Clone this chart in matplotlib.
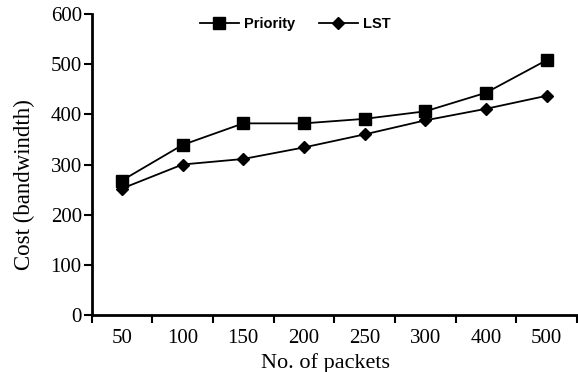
import matplotlib.pyplot as plt
import numpy as np

packets = ["50", "100", "150", "200", "250", "300", "400", "500"]
priority = [268, 339, 382, 382, 391, 406, 443, 508]
lst = [252, 300, 311, 334, 360, 388, 411, 437]

plt.rcParams["font.family"] = "Liberation Serif"

W, H = 578, 372
fig = plt.figure(figsize=(W / 100, H / 100), dpi=100)
# axes box in pixels: left 91.5, right 577, top 14, bottom 315
ax = fig.add_axes([91.5 / W, 1 - 315 / H, (577 - 91.5) / W, (315 - 14) / H])

x = np.arange(len(packets)) + 0.5
ax.plot(x, priority, color="black", lw=1.3, marker="s", markersize=9, label="Priority")
ax.plot(x, lst, color="black", lw=1.3, marker="D", markersize=6, label="LST")

ax.set_xlim(0, len(packets))
ax.set_ylim(0, 600)
ax.set_yticks(range(0, 601, 100))

# labels at category centres, tick marks on the boundaries
ax.set_xticks(x)
ax.set_xticklabels(packets)
ax.set_xticks(np.arange(len(packets) + 1), minor=True)
ax.tick_params(axis="x", which="major", length=0, pad=10, labelsize=15)
ax.tick_params(axis="x", which="minor", length=6, width=1.5, direction="out")
ax.tick_params(axis="y", length=6, width=1.5, direction="out", pad=1, labelsize=15)

for side in ["top", "right"]:
    ax.spines[side].set_visible(False)
for side in ["left", "bottom"]:
    ax.spines[side].set_linewidth(2)

ax.set_xlabel("No. of packets", fontsize=16)
ax.xaxis.set_label_coords(0.481, -38 / 301, transform=ax.transAxes)
ax.set_ylabel("Cost (bandwindth)", fontsize=16.5)
ax.yaxis.set_label_coords(-56.5 / 485.5, 0.435, transform=ax.transAxes)

ax.legend(
    loc="center left",
    bbox_to_anchor=(200 / W, 1 - 24 / H),
    bbox_transform=fig.transFigure,
    ncol=2,
    frameon=False,
    prop={"family": "Liberation Sans", "weight": "bold", "size": 10.5},
    handlelength=2.65,
    handletextpad=0.4,
    columnspacing=1.6,
    borderpad=0,
    borderaxespad=0,
)

fig.savefig("out.png", dpi=100)
